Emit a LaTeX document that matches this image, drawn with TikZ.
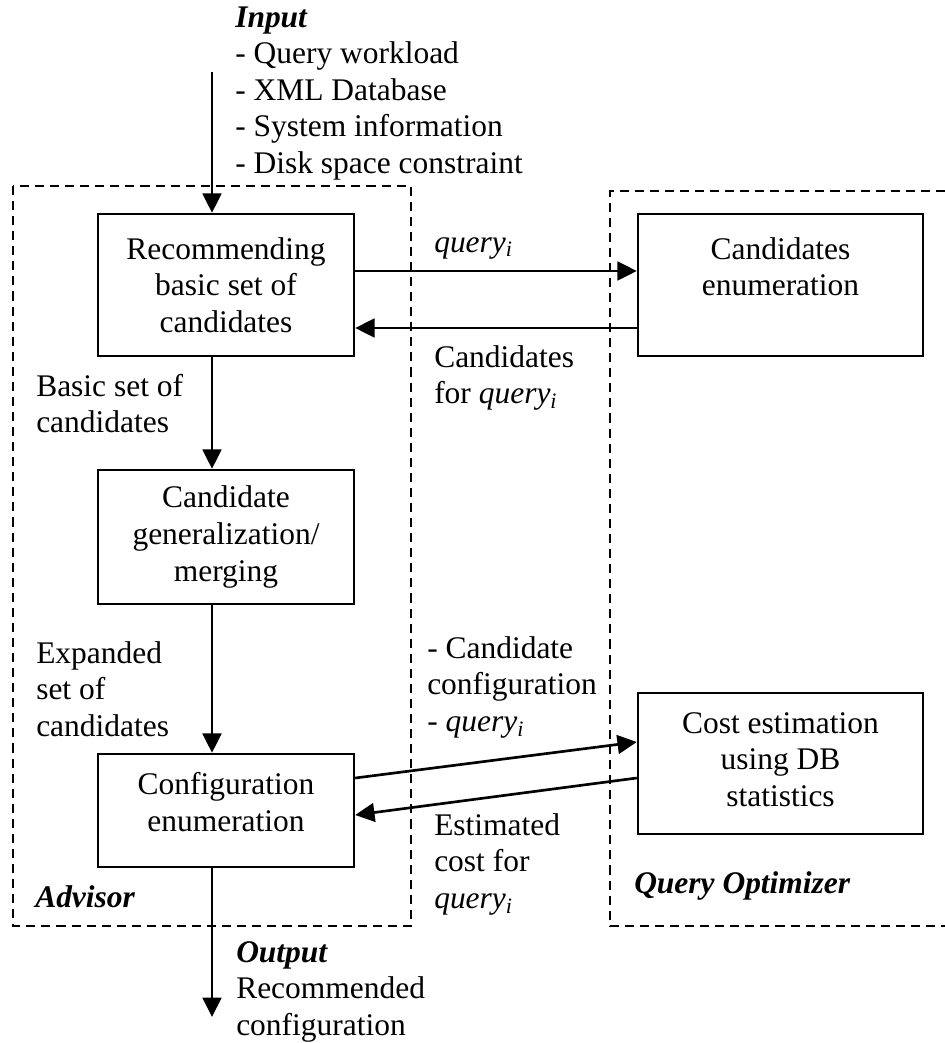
\documentclass[tikz,border=0pt]{standalone}
\usepackage{fontspec}
\setmainfont{Liberation Serif}
\usetikzlibrary{arrows.meta}
\newcommand\lblfont{\fontsize{23.6pt}{27.4pt}\selectfont}
\newcommand\qi{\textit{query}\textsubscript{\textit{i}}}
% extra depth on a last line, lifts a centred text block
\newcommand\lift[1]{\rule[-#1]{0pt}{0pt}}

\begin{document}
\begin{tikzpicture}[x=0.75pt,y=-0.75pt,
  procbox/.style={draw, line width=1.8pt, inner sep=0pt, align=center, font=\lblfont},
  flow/.style={line width=2pt, -{Triangle[length=14.5pt,width=14pt]}},
  group/.style={line width=1.2pt, dash pattern=on 6.8pt off 4.5pt},
  txt/.style={anchor=north west, inner sep=0pt, align=left, font=\lblfont},
  heading/.style={anchor=base west, inner sep=0pt, font=\lblfont\bfseries\itshape}]

\useasboundingbox (0,0) rectangle (945,1043);

% dashed groups
\draw[group] (13,186) rectangle (411,926);
\draw[group] (945,191) -- (610,191) -- (610,926) -- (945,926);

% process boxes
\node[procbox, minimum width=192pt, minimum height=106.5pt] (b1) at (226,285)
  {Recommending\\basic set of\\candidates};
\node[procbox, minimum width=192pt, minimum height=100.5pt] (b2) at (226,537)
  {Candidate\\generalization/\\merging};
\node[procbox, minimum width=192pt, minimum height=84.75pt] (b3) at (226,810.5)
  {Configuration\\enumeration\lift{12.5pt}};
\node[procbox, minimum width=213.75pt, minimum height=106.5pt] (cand) at (780.5,285)
  {Candidates\\enumeration\\\mbox{}};
\node[procbox, minimum width=213.75pt, minimum height=105.75pt] (cost) at (780.5,763.5)
  {Cost estimation\\using DB\\statistics\lift{6pt}};

% texts
\node[txt] (inp) at (235,1.4)
  {\strut\textbf{\textit{Input}}\\- Query workload\\- XML Database\\- System information\\- Disk space constraint};
\node[txt] (outp) at (236,936.4)
  {\strut\textbf{\textit{Output}}\\Recommended\\configuration};
\node[anchor=base west, inner sep=0pt, font=\lblfont] (lq) at (434,252) {\qi};
\node[txt] (lcand) at (434,341.4) {\strut Candidates\\for \qi};
\node[txt] (lbasic) at (36,370.4) {\strut Basic set of\\candidates};
\node[txt] (lexp) at (36,637.4) {\strut Expanded\\set of\\candidates};
\node[txt] (lconf) at (427,632.4) {\strut - Candidate\\configuration\\- \qi};
\node[txt] (lest) at (434,809.4) {\strut Estimated\\cost for\\\qi};
\node[heading] (adv) at (35,907) {Advisor};
\node[heading] (qo) at (634,893) {Query Optimizer};

% connectors
\coordinate (inTop) at (212,72);
\coordinate (outEnd) at (212,1017);
\coordinate (qy) at (0,271);
\coordinate (ry) at (0,328);
\coordinate (sy) at (0,778);
\coordinate (ty) at (0,742);
\coordinate (uy) at (0,815);

\draw[flow] (inTop) -- (inTop |- b1.north);
\draw[flow] (inTop |- b1.south) -- (inTop |- b2.north);
\draw[flow] (inTop |- b2.south) -- (inTop |- b3.north);
\draw[flow] (inTop |- b3.south) -- (outEnd);

\draw[flow] (b1.east |- qy) -- (cand.west |- qy);
\draw[flow] (cand.west |- ry) -- (b1.east |- ry);
\draw[flow] (b3.east |- sy) -- (cost.west |- ty);
\draw[flow] (cost.west |- sy) -- (b3.east |- uy);
\end{tikzpicture}
\end{document}
